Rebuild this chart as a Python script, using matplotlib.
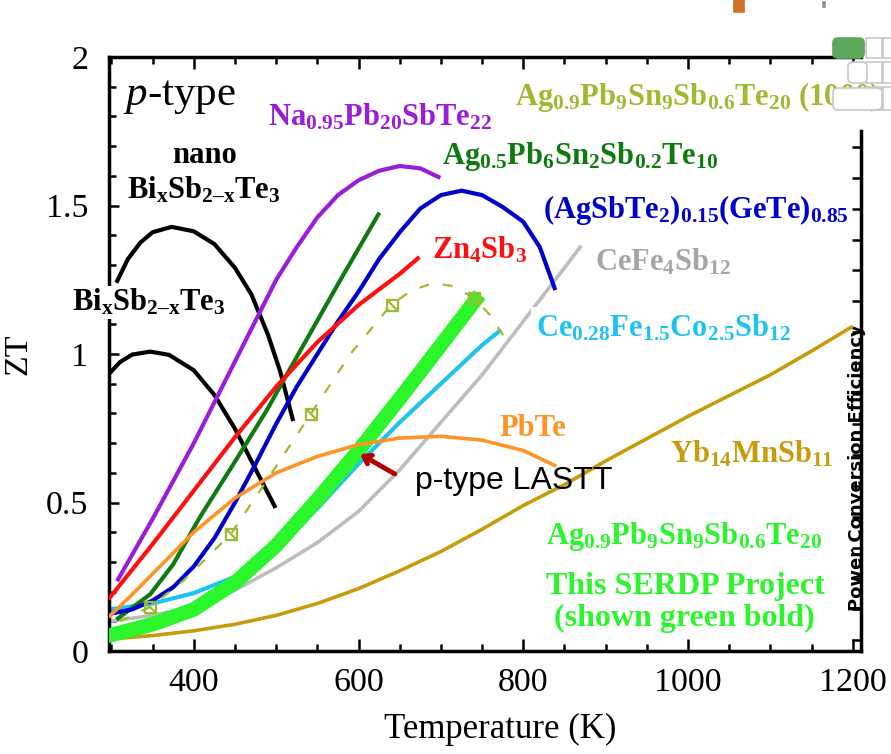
import matplotlib
matplotlib.use('Agg')
import matplotlib.pyplot as plt
from matplotlib.ticker import MultipleLocator
from matplotlib.path import Path
from matplotlib.patches import FancyBboxPatch, Rectangle

plt.rcParams['font.family'] = 'Liberation Serif'
plt.rcParams['mathtext.fontset'] = 'custom'
plt.rcParams['mathtext.rm'] = 'Liberation Serif'
plt.rcParams['mathtext.it'] = 'Liberation Serif:italic'
plt.rcParams['mathtext.bf'] = 'Liberation Serif:bold'

# ZT vs temperature
nano_bst_T = [307, 320, 335, 350, 373, 400, 425, 450, 470, 490, 505, 520]
nano_bst_zt = [1.246, 1.32, 1.375, 1.41, 1.428, 1.413, 1.37, 1.29, 1.2, 1.065, 0.94, 0.781]

bst_T = [298, 310, 325, 347, 370, 400, 425, 450, 475, 498]
bst_zt = [0.936, 0.972, 0.998, 1.008, 0.997, 0.945, 0.862, 0.748, 0.612, 0.488]

napb_T = [308, 350, 400, 450, 500, 525, 550, 575, 600, 625, 650, 675, 697]
napb_zt = [0.241, 0.445, 0.70, 0.975, 1.25, 1.36, 1.46, 1.535, 1.585, 1.617, 1.633, 1.625, 1.596]

agpbsn_T = [308, 347, 375, 407, 448, 488, 529, 576, 624]
agpbsn_zt = [0.110, 0.191, 0.292, 0.449, 0.629, 0.808, 1.010, 1.24, 1.470]

tags_T = [298, 325, 350, 375, 400, 425, 450, 475, 500, 525, 550, 575, 600, 625, 650,
          675, 700, 725, 750, 775, 800, 820, 838]
tags_zt = [0.125, 0.14, 0.17, 0.215, 0.285, 0.38, 0.5, 0.63, 0.765, 0.89, 1.0, 1.11, 1.21,
           1.32, 1.41, 1.49, 1.535, 1.55, 1.535, 1.495, 1.445, 1.36, 1.222]

znsb_T = [298, 350, 400, 450, 500, 550, 600, 650, 672]
znsb_zt = [0.18, 0.36, 0.54, 0.72, 0.89, 1.04, 1.165, 1.27, 1.322]

cefe_T = [298, 350, 400, 450, 500, 550, 600, 650, 700, 750, 800, 850, 869]
cefe_zt = [0.10, 0.12, 0.15, 0.205, 0.28, 0.365, 0.47, 0.61, 0.77, 0.93, 1.11, 1.29, 1.36]

cefeco_T = [298, 350, 400, 450, 500, 550, 600, 650, 700, 750, 771]
cefeco_zt = [0.14, 0.16, 0.195, 0.25, 0.34, 0.48, 0.63, 0.77, 0.9, 1.03, 1.077]

lastt_T = [294, 350, 400, 450, 500, 550, 600, 650, 700, 747]
lastt_zt = [0.05, 0.09, 0.14, 0.23, 0.355, 0.51, 0.675, 0.85, 1.03, 1.20]

ref_T = [310, 347, 387, 445, 490, 542, 590, 640, 665, 690, 712, 740, 760, 780]
ref_zt = [0.10, 0.148, 0.236, 0.394, 0.58, 0.798, 1.0, 1.167, 1.215, 1.238, 1.23, 1.19, 1.13, 1.044]
ref_mark_T = [347, 445, 542, 640, 740]
ref_mark_zt = [0.148, 0.394, 0.798, 1.165, 1.189]

pbte_T = [298, 325, 350, 400, 450, 500, 550, 600, 650, 700, 750, 800, 838]
pbte_zt = [0.118, 0.19, 0.26, 0.40, 0.515, 0.6, 0.655, 0.695, 0.717, 0.723, 0.71, 0.675, 0.625]

yb_T = [298, 350, 400, 450, 500, 550, 600, 650, 700, 750, 800, 850, 900, 950, 1000,
        1050, 1100, 1150, 1198]
yb_zt = [0.04, 0.052, 0.068, 0.09, 0.12, 0.16, 0.21, 0.27, 0.335, 0.41, 0.49, 0.56, 0.64,
         0.715, 0.79, 0.86, 0.93, 1.01, 1.09]

x_ticks = [400, 600, 800, 1000, 1200]
y_ticks = [0, 0.5, 1, 1.5, 2]
y_tick_labels = ['0', '0.5', '1', '1.5', '2']
eff_ticks = list(range(0, 17))

W, H = 891, 754
fig = plt.figure(figsize=(W / 100, H / 100), dpi=100)
ax = fig.add_axes([109 / W, 1 - 651 / H, 752 / W, 594 / H])

lw = 3.0
ax.plot(nano_bst_T, nano_bst_zt, color='black', lw=lw, zorder=4)
ax.plot(bst_T, bst_zt, color='black', lw=lw, zorder=4)
ax.plot(napb_T, napb_zt, color='#9A1ED8', lw=lw, zorder=4)
ax.plot(agpbsn_T, agpbsn_zt, color='#0F7A0F', lw=lw, zorder=4)
ax.plot(tags_T, tags_zt, color='#0000CD', lw=lw, zorder=4)
ax.plot(znsb_T, znsb_zt, color='#FF1010', lw=lw, zorder=4)
ax.plot(cefe_T, cefe_zt, color='#BDBDBD', lw=2.6, zorder=2)
ax.plot(cefeco_T, cefeco_zt, color='#1EC3F0', lw=lw, zorder=2)
ax.plot(yb_T, yb_zt, color='#C69C0C', lw=2.6, zorder=2)
ax.plot(lastt_T, lastt_zt, color='#2BF52B', lw=10.5, zorder=3, solid_capstyle='butt')
ax.plot(pbte_T, pbte_zt, color='#FF9426', lw=2.6, zorder=4)

box_x = Path([(-1, -1), (1, -1), (1, 1), (-1, 1), (-1, -1), (-1, 1), (1, -1)],
             [Path.MOVETO, Path.LINETO, Path.LINETO, Path.LINETO, Path.CLOSEPOLY,
              Path.MOVETO, Path.LINETO])
ax.plot(ref_T, ref_zt, color='#9DBB30', lw=1.6, dashes=(4.5, 6.3), zorder=5)
ax.plot(ref_mark_T, ref_mark_zt, ls='none', marker=box_x, ms=8, mew=1.6,
        mfc='none', mec='#9DBB30', zorder=5)

ax.set_xlim(297, 1210)
ax.set_ylim(0, 2)
ax.set_xticks(x_ticks)
ax.xaxis.set_minor_locator(MultipleLocator(50))
ax.set_yticks(y_ticks)
ax.set_yticklabels(y_tick_labels)
ax.yaxis.set_minor_locator(MultipleLocator(0.1))
ax.tick_params(axis='x', which='both', direction='in', top=True, bottom=True,
               labelsize=24.5, pad=12, width=1.8)
ax.tick_params(axis='x', which='major', length=8.6)
ax.tick_params(axis='x', which='minor', length=5)
ax.tick_params(axis='y', which='both', direction='in', left=True, right=False,
               labelsize=24.5, pad=15, width=1.8)
ax.tick_params(axis='y', which='major', length=7)
ax.tick_params(axis='y', which='minor', length=5)
for s in ax.spines.values():
    s.set_linewidth(2.5)
ax.spines['right'].set_bounds(0, 1.75)

ax.set_xlabel('Temperature (K)', fontsize=25)
ax.xaxis.set_label_coords(0.52, -0.104)
ax.set_ylabel('ZT', fontsize=24.5)
ax.yaxis.set_label_coords(-0.1, 0.5)

# efficiency axis ticks on the right
ax2 = ax.twinx()
ax2.set_ylim(-0.357, 18.93)
ax2.set_yticks(eff_ticks)
ax2.tick_params(axis='y', direction='in', length=6.5, width=1.8, labelright=False)
for s in ax2.spines.values():
    s.set_visible(False)
ax.text(0.995, 0.308, 'Power Conversion Efficiency', transform=ax.transAxes,
        rotation=90, ha='center', va='center', fontfamily='DejaVu Sans',
        fontweight='bold', fontsize=13, zorder=1, clip_on=False)

lab = dict(fontsize=22, fontweight='bold', va='baseline', ha='left', clip_on=False, zorder=6)
ax.text(314, 1.84, r'$p$-type', fontsize=31, va='baseline', ha='left')
ax.text(490, 1.77, r'$\mathbf{Na_{0.95}Pb_{20}SbTe_{22}}$', color='#9A1ED8', **lab)
ax.text(790, 1.84, r'$\mathbf{Ag_{0.9}Pb_{9}Sn_{9}Sb_{0.6}Te_{20}}$ (1000)', color='#9DBB30', **lab)
ax.text(413, 1.643, 'nano', color='black', fontsize=22, fontweight='bold', va='baseline', ha='center')
ax.text(319, 1.525, r'$\mathbf{Bi_{x}Sb_{2–x}Te_{3}}$', color='black', **lab)
ax.text(252, 1.145, r'$\mathbf{Bi_{x}Sb_{2–x}Te_{3}}$', color='black',
        bbox=dict(facecolor='white', edgecolor='none', pad=1), **lab)
ax.text(701, 1.64, r'$\mathbf{Ag_{0.5}Pb_{6}Sn_{2}Sb_{0.2}Te_{10}}$', color='#0F7A0F', **lab)
ax.text(824, 1.458, r'$\mathbf{(AgSbTe_{2})_{0.15}(GeTe)_{0.85}}$', color='#0000CD', **lab)
ax.text(689, 1.32, r'$\mathbf{Zn_{4}Sb_{3}}$', color='#FF1010', **lab)
ax.text(887, 1.28, r'$\mathbf{CeFe_{4}Sb_{12}}$', color='#A6A6A6', **lab)
ax.text(816, 1.06, r'$\mathbf{Ce_{0.28}Fe_{1.5}Co_{2.5}Sb_{12}}$', color='#1EC3F0',
        bbox=dict(facecolor='white', edgecolor='none', pad=4), **lab)
ax.text(771, 0.724, 'PbTe', color='#FF9426', **lab)
ax.text(978, 0.633, r'$\mathbf{Yb_{14}MnSb_{11}}$', color='#C69C0C', **lab)
ax.text(828, 0.36, r'$\mathbf{Ag_{0.9}Pb_{9}Sn_{9}Sb_{0.6}Te_{20}}$', color='#2BF52B', **lab)
ax.text(997, 0.192, 'This SERDP Project', color='#2BF52B', fontsize=23,
        fontweight='bold', va='baseline', ha='center')
ax.text(996, 0.085, '(shown green bold)', color='#2BF52B', fontsize=23,
        fontweight='bold', va='baseline', ha='center')

ax.annotate('', xy=(602, 0.663), xytext=(644, 0.596),
            arrowprops=dict(arrowstyle='->,head_length=0.5,head_width=0.35',
                            color='#B00000', lw=3.5, shrinkA=0, shrinkB=0), zorder=7)
ax.text(668, 0.545, 'p-type LASTT', fontfamily='Liberation Sans', fontsize=23,
        va='baseline', ha='left', zorder=7)


# screen-capture leftovers in the upper right corner
def fbox(x0, y0, x1, y1):
    return (x0 / W, 1 - y1 / H, (x1 - x0) / W, (y1 - y0) / H)


def add_box(x0, y0, x1, y1, fc, ec, rounded=True):
    l, b, w, h = fbox(x0, y0, x1, y1)
    if rounded:
        p = FancyBboxPatch((l, b), w, h, boxstyle='round,pad=0,rounding_size=0.006',
                           transform=fig.transFigure, fc=fc, ec=ec, lw=1.2, zorder=10)
    else:
        p = Rectangle((l, b), w, h, transform=fig.transFigure, fc=fc, ec=ec, lw=1.2, zorder=10)
    fig.add_artist(p)


for cx in (866, 883):
    for (y0, y1) in ((38, 58), (62, 83), (87, 110)):
        add_box(cx, y0, cx + 16, y1, 'white', '#C8C8C8', rounded=False)
add_box(848, 62, 867, 83, 'white', '#C8C8C8')
add_box(833, 88, 882, 110, 'white', '#C8C8C8')
add_box(833, 38, 864, 58, '#5BA85B', '#5BA85B')
add_box(734, 0, 744, 12, '#D2702A', '#D2702A', rounded=False)
add_box(823, 2, 825, 7, '#8898A8', '#8898A8', rounded=False)

fig.savefig('out.png', dpi=100)
